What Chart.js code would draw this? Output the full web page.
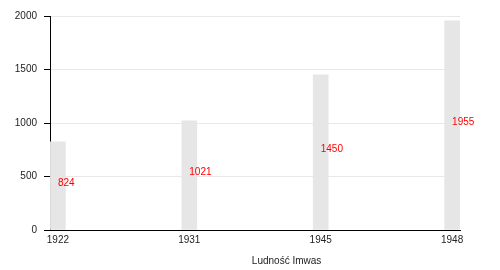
<!DOCTYPE html>
<html>
<head>
<meta charset="utf-8">
<script src="https://cdn.jsdelivr.net/npm/chart.js@4.4.0/dist/chart.umd.min.js"></script>
<style>
  html, body { margin: 0; padding: 0; background: #fff; }
  #wrap { width: 500px; height: 270px; }
</style>
</head>
<body>
<div id="wrap"><canvas id="chart"></canvas></div>
<script>
// population of Imwas by census year
const years = ["1922", "1931", "1945", "1948"];
const population = [824, 1021, 1450, 1955];
const yTicks = [0, 500, 1000, 1500, 2000];
const xTitle = "Ludność Imwas";

Chart.defaults.font.family = "'Liberation Sans', Arial, sans-serif";
Chart.defaults.font.size = 10;
Chart.defaults.color = "#222";

// red value labels in the middle of each bar + axis title
const valueLabels = {
    id: "valueLabels",
    afterDatasetsDraw(chart) {
        const { ctx, scales: { x, y } } = chart;
        ctx.save();
        ctx.font = "10px 'Liberation Sans', Arial, sans-serif";
        ctx.fillStyle = "#ff0000";
        ctx.textAlign = "left";
        ctx.textBaseline = "alphabetic";
        population.forEach((v, i) => {
            ctx.fillText(String(v), x.getPixelForValue(i), y.getPixelForValue(v / 2));
        });
        ctx.fillStyle = "#222";
        ctx.textAlign = "center";
        ctx.fillText(xTitle, x.left + (x.right - x.left) * 0.577, 264);
        ctx.restore();
    }
};

new Chart(document.getElementById("chart"), {
    type: "bar",
    data: {
        datasets: [{
            data: population.map((v, i) => ({ x: i, y: v })),
            backgroundColor: "#e6e6e6",
            borderWidth: 0,
            barThickness: 15
        }]
    },
    options: {
        responsive: true,
        maintainAspectRatio: false,
        animation: false,
        layout: { padding: { top: 16, right: 40, left: 0, bottom: 0 } },
        plugins: {
            legend: { display: false },
            tooltip: { enabled: false }
        },
        scales: {
            x: {
                type: "linear",
                offset: false,
                min: -0.06,
                max: 3.06,
                grid: { display: false, drawTicks: false },
                border: { display: true, color: "#000", width: 1 },
                afterBuildTicks: scale => { scale.ticks = years.map((y, i) => ({ value: i })); },
                ticks: {
                    padding: 4,
                    color: "#222",
                    callback: val => years[val]
                },
                afterFit: scale => { scale.height = 40; }
            },
            y: {
                min: 0,
                max: 2000,
                afterBuildTicks: scale => { scale.ticks = yTicks.map(v => ({ value: v })); },
                grid: { color: "#e8e8e8", tickColor: "#000", tickLength: 6 },
                border: { display: true, color: "#000", width: 1 },
                ticks: { padding: 7, color: "#222", callback: val => String(val) },
                afterFit: scale => { scale.width = 50; }
            }
        }
    },
    plugins: [valueLabels]
});
</script>
</body>
</html>
